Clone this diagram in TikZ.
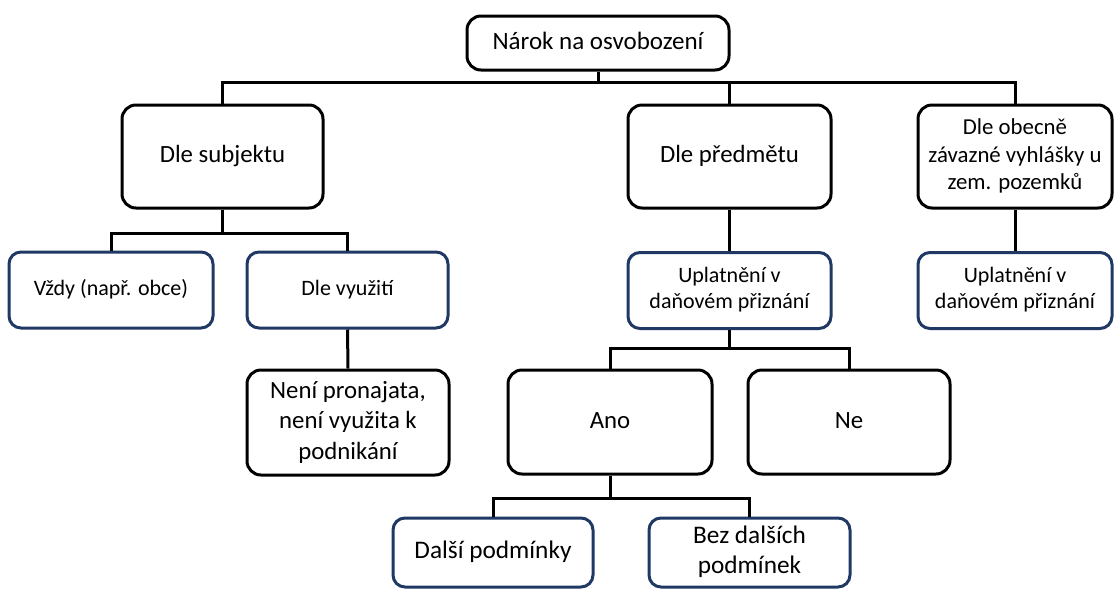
\documentclass[tikz,border=0pt]{standalone}
\usepackage{fontspec}
\setmainfont{Carlito}
\definecolor{navy}{RGB}{31,56,100}
\newcommand{\tx}[2][-3pt]{\raisebox{#1}{\begin{tabular}{@{}c@{}}#2\end{tabular}}}
\begin{document}
\begin{tikzpicture}[x=1pt,y=-1pt,
  bigbox/.style={draw=black,line width=3pt,rounded corners=14pt,align=center,inner sep=2pt,font=\fontsize{24.8}{30.5}\selectfont},
  smallbox/.style={draw=navy,line width=3pt,rounded corners=12pt,align=center,inner sep=2pt,font=\fontsize{22}{25.5}\selectfont},
  conn/.style={line width=3pt,draw=black}]
\useasboundingbox (0,0) rectangle (1114,590);
\node[bigbox,minimum width=262pt,minimum height=54pt,font=\fontsize{25}{30}\selectfont] (top) at (598,43) {\tx[0pt]{Nárok na osvobození}};
\node[bigbox,minimum width=201pt,minimum height=103pt] (subj) at (222.5,156.5) {\tx[-1pt]{Dle subjektu}};
\node[bigbox,minimum width=203pt,minimum height=103pt] (pred) at (729.5,156.5) {\tx[-1pt]{Dle předmětu}};
\node[bigbox,minimum width=194pt,minimum height=103pt,font=\fontsize{22.8}{27.5}\selectfont] (obec) at (1015,156.5) {\tx[-3.5pt]{Dle obecně\\závazné vyhlášky u\\zem. pozemků}};
\node[smallbox,minimum width=204pt,minimum height=76pt] (vzdy) at (111,290) {\tx{Vždy (např. obce)}};
\node[smallbox,minimum width=201pt,minimum height=76pt] (vyuz) at (347.5,290) {\tx{Dle využití}};
\node[bigbox,minimum width=202pt,minimum height=105pt] (neni) at (348,422.5) {\tx[-2pt]{Není pronajata,\\není využita k\\podnikání}};
\node[smallbox,minimum width=203pt,minimum height=76pt] (upl1) at (729.5,290.5) {\tx{Uplatnění v\\daňovém přiznání}};
\node[smallbox,minimum width=194pt,minimum height=76pt] (upl2) at (1015,290.5) {\tx{Uplatnění v\\daňovém přiznání}};
\node[bigbox,minimum width=204pt,minimum height=104pt] (ano) at (610,422) {\tx[-4pt]{Ano}};
\node[bigbox,minimum width=202pt,minimum height=104pt] (ne) at (849,422) {\tx[-4pt]{Ne}};
\node[smallbox,minimum width=200pt,minimum height=69pt,font=\fontsize{25.3}{30}\selectfont] (dalsi) at (493,552.5) {\tx{Další podmínky}};
\node[smallbox,minimum width=201pt,minimum height=69pt,font=\fontsize{25.3}{30}\selectfont] (bez) at (749.5,552.5) {\tx[-4pt]{Bez dalších\\podmínek}};
\draw[conn] (top.south) |- (subj.north |- 0,82) -- (subj.north);
\draw[conn] (top.south) |- (obec.north |- 0,82) -- (obec.north);
\draw[conn] (pred.north |- 0,82) -- (pred.north);
\draw[conn] (subj.south) |- (vzdy.north |- 0,233) -- (vzdy.north);
\draw[conn] (subj.south) |- (vyuz.north |- 0,233) -- (vyuz.north);
\draw[conn] (vyuz.south) -- (neni.north);
\draw[conn] (pred.south) -- (upl1.north);
\draw[conn] (obec.south) -- (upl2.north);
\draw[conn] (upl1.south) |- (ano.north |- 0,348) -- (ano.north);
\draw[conn] (upl1.south) |- (ne.north |- 0,348) -- (ne.north);
\draw[conn] (ano.south) |- (dalsi.north |- 0,498) -- (dalsi.north);
\draw[conn] (ano.south) |- (bez.north |- 0,498) -- (bez.north);
\end{tikzpicture}
\end{document}
